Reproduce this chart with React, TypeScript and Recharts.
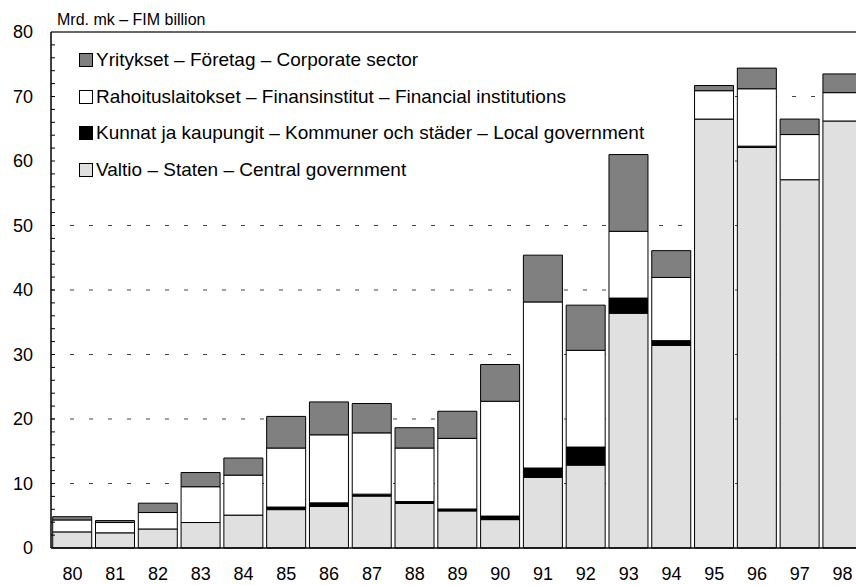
import { BarChart, Bar, XAxis, YAxis, CartesianGrid, ReferenceLine, ReferenceArea } from 'recharts';

const years = ['80', '81', '82', '83', '84', '85', '86', '87', '88', '89', '90', '91', '92', '93', '94', '95', '96', '97', '98'];

// Mrd. mk
const centralGov = [2.5, 2.35, 2.95, 3.95, 5.1, 5.95, 6.45, 8.05, 6.9, 5.75, 4.4, 10.95, 12.85, 36.4, 31.4, 66.5, 62.1, 57.1, 66.2];
const localGov = [0, 0, 0, 0, 0, 0.4, 0.55, 0.3, 0.3, 0.3, 0.55, 1.45, 2.8, 2.35, 0.75, 0, 0.2, 0, 0];
const financial = [1.85, 1.6, 2.55, 5.55, 6.2, 9.15, 10.55, 9.5, 8.3, 10.95, 17.8, 25.75, 15.0, 10.35, 9.8, 4.4, 8.9, 7.0, 4.4];
const corporate = [0.5, 0.3, 1.45, 2.2, 2.65, 4.9, 5.1, 4.55, 3.15, 4.2, 5.7, 7.25, 7.0, 11.9, 4.15, 0.8, 3.2, 2.4, 2.9];

const yTicks = [0, 2, 4, 6, 8, 10, 12, 14, 16, 18, 20, 22, 24, 26, 28, 30, 32, 34, 36, 38, 40, 42, 44, 46, 48, 50, 52, 54, 56, 58, 60, 62, 64, 66, 68, 70, 72, 74, 76, 78, 80];
const gridValues = [10, 20, 30, 40, 50, 60, 70];

const legendItems = [
  { label: 'Yritykset – Företag – Corporate sector', color: '#808080' },
  { label: 'Rahoituslaitokset – Finansinstitut – Financial institutions', color: '#ffffff' },
  { label: 'Kunnat ja kaupungit – Kommuner och städer – Local government', color: '#000000' },
  { label: 'Valtio – Staten – Central government', color: '#e0e0e0' },
];

const data = years.map((y, i) => ({
  year: y,
  central: centralGov[i],
  local: localGov[i],
  financial: financial[i],
  corporate: corporate[i],
}));

const FONT = '"Liberation Sans", Arial, sans-serif';

const YTick = (props: any) => {
  const { x, y, payload } = props;
  const v = payload.value;
  return (
    <g>
      {v > 0 && v < 80 && <line x1={x} x2={x + 4} y1={y} y2={y} stroke="#000" strokeWidth={1} />}
      {v % 10 === 0 && (
        <text x={x - 18} y={y} dy="0.35em" textAnchor="end" fontSize={18} fill="#000" fontFamily={FONT}>
          {v}
        </text>
      )}
    </g>
  );
};

export default function App() {
  return (
    <div style={{ position: 'fixed', left: 0, top: 0, width: 856, height: 585, overflow: 'hidden', background: '#fff' }}>
      <BarChart
        width={864}
        height={585}
        data={data}
        margin={{ top: 32, right: 0, left: 0, bottom: 0 }}
        barCategoryGap="4%"
      >
        <CartesianGrid vertical={false} horizontalValues={gridValues} stroke="#444" strokeDasharray="4 15" />
        {/* white box behind the legend hides the grid, bars stay on top */}
        <ReferenceArea x1="80" x2="94" y1={52} y2={79.5} fill="#fff" fillOpacity={1} stroke="none" />
        <XAxis
          dataKey="year"
          height={37}
          tickLine={false}
          tickSize={0}
          tickMargin={19}
          axisLine={{ stroke: '#000', strokeWidth: 1.5 }}
          tick={{ fontSize: 18, fill: '#000', fontFamily: FONT }}
          interval={0}
        />
        <YAxis
          width={51}
          domain={[0, 80]}
          ticks={yTicks}
          interval={0}
          tickLine={false}
          tickSize={0}
          tickMargin={0}
          axisLine={{ stroke: '#000', strokeWidth: 1.5 }}
          tick={<YTick />}
        />
        <ReferenceLine y={80} stroke="#333" strokeWidth={1.5} />
        <Bar dataKey="central" stackId="a" fill="#e0e0e0" stroke="#000" strokeWidth={1} isAnimationActive={false} />
        <Bar dataKey="local" stackId="a" fill="#000000" stroke="#000" strokeWidth={1} isAnimationActive={false} />
        <Bar dataKey="financial" stackId="a" fill="#ffffff" stroke="#000" strokeWidth={1} isAnimationActive={false} />
        <Bar dataKey="corporate" stackId="a" fill="#808080" stroke="#000" strokeWidth={1} isAnimationActive={false} />
      </BarChart>
      <div style={{ position: 'absolute', left: 57, top: 10, fontFamily: FONT, fontSize: 16, color: '#000', whiteSpace: 'nowrap', lineHeight: '20px' }}>
        Mrd. mk – FIM billion
      </div>
      <div style={{ position: 'absolute', left: 79, top: 42, fontFamily: FONT, fontSize: 19, color: '#000' }}>
        {legendItems.map((item) => (
          <div key={item.label} style={{ display: 'flex', alignItems: 'center', height: 36.6, whiteSpace: 'nowrap' }}>
            <span style={{ display: 'inline-block', width: 12, height: 12, background: item.color, border: '1px solid #000', marginRight: 3 }} />
            <span>{item.label}</span>
          </div>
        ))}
      </div>
    </div>
  );
}
